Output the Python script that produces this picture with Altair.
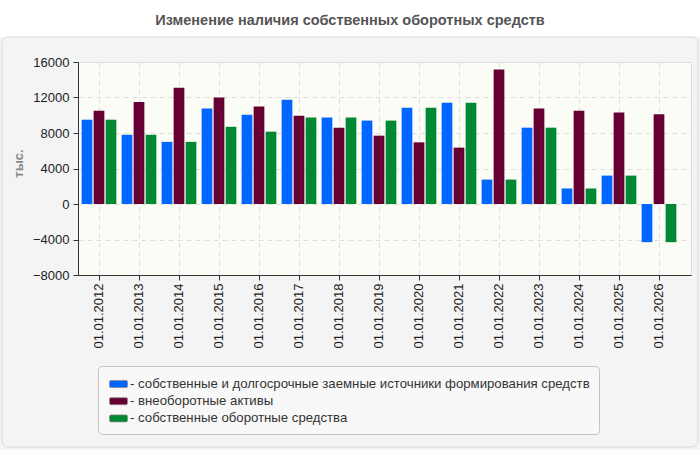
import altair as alt
import pandas as pd

# Reporting dates (categories on the x axis)
dates = [
    "01.01.2012", "01.01.2013", "01.01.2014", "01.01.2015", "01.01.2016",
    "01.01.2017", "01.01.2018", "01.01.2019", "01.01.2020", "01.01.2021",
    "01.01.2022", "01.01.2023", "01.01.2024", "01.01.2025", "01.01.2026",
]

series_names = [
    "собственные и долгосрочные заемные источники формирования средств",
    "внеоборотные активы",
    "собственные оборотные средства",
]
series_colors = ["#0066ff", "#660033", "#008833"]

# Values, thousands
own_and_longterm = [9500, 7800, 7000, 10750, 10050, 11750, 9750, 9400, 10850, 11400,
                    2750, 8600, 1750, 3200, -4300]
noncurrent_assets = [10500, 11500, 13100, 12000, 11000, 9950, 8600, 7700, 6950, 6350,
                     15150, 10750, 10500, 10300, 10100]
working_capital = [9500, 7800, 7000, 8700, 8150, 9750, 9750, 9400, 10850, 11400,
                   2750, 8600, 1750, 3200, -4300]

y_ticks = [-8000, -4000, 0, 4000, 8000, 12000, 16000]
chart_title = "Изменение наличия собственных оборотных средств"
y_title = "тыс."

rows = []
for i, d in enumerate(dates):
    for name, vals in zip(series_names, [own_and_longterm, noncurrent_assets, working_capital]):
        rows.append({"date": d, "series": name, "value": vals[i]})
df = pd.DataFrame(rows)

W, H = 613, 213
one = pd.DataFrame({"k": [0]})

# Rounded-rectangle legend swatch inside the [-1, 1] box
legend_symbol = (
    "M-0.85,-0.39 h1.7 a0.15,0.15 0 0 1 0.15,0.15 v0.48 a0.15,0.15 0 0 1 -0.15,0.15 "
    "h-1.7 a0.15,0.15 0 0 1 -0.15,-0.15 v-0.48 a0.15,0.15 0 0 1 0.15,-0.15 z"
)

bars = alt.Chart(df).mark_bar().encode(
    x=alt.X(
        "date:N", sort=dates,
        scale=alt.Scale(paddingInner=0, paddingOuter=0.1625, align=0.077),
        axis=alt.Axis(
            title=None, labelAngle=270, labelAlign="right", labelBaseline="middle",
            labelFontSize=13, labelColor="#222", labelPadding=3,
            tickSize=5, tickColor="#333", domainColor="#333",
            grid=True, gridDash=[5, 4], gridColor="#dddddd",
        ),
    ),
    xOffset=alt.XOffset(
        "series:N", sort=series_names,
        scale=alt.Scale(paddingInner=0.108, paddingOuter=0.22),
    ),
    y=alt.Y(
        "value:Q",
        scale=alt.Scale(domain=[-8000, 16000], nice=False),
        axis=alt.Axis(
            values=y_ticks, format="d", title=y_title, titleFontSize=13,
            titleFontWeight="bold", titleColor="#888", titleX=-60, titleY=101,
            titleAngle=270, titleAlign="center", titleBaseline="middle",
            labelFontSize=13, labelColor="#222", labelPadding=4,
            tickSize=5, tickColor="#333", domainColor="#333",
            grid=True, gridDash=[5, 4], gridColor="#dddddd",
        ),
    ),
    color=alt.Color(
        "series:N",
        scale=alt.Scale(domain=series_names, range=series_colors),
        legend=alt.Legend(
            title=None, orient="none", legendX=20, legendY=304,
            fillColor="#f8f8f8", strokeColor="#c4c4c4", cornerRadius=4,
            padding=8.5, rowPadding=1.2, symbolOffset=2.5,
            symbolType=legend_symbol, symbolSize=324, symbolStrokeWidth=0.8,
            symbolStrokeColor="#8a8a8a",
            labelFontSize=13.2, labelColor="#333", labelOffset=2, labelLimit=0,
            labelExpr="'- ' + datum.label",
        ),
    ),
)

top_strip = alt.Chart(one).mark_rect(color="white").encode(
    x=alt.value(-78), x2=alt.value(622), y=alt.value(-62), y2=alt.value(-25)
)

panel_border = alt.Chart(one).mark_rect(
    fillOpacity=0, stroke="#d8d8d8", strokeWidth=1, cornerRadius=6
).encode(
    x=alt.value(-76), x2=alt.value(620), y=alt.value(-25), y2=alt.value(385)
)

title = alt.Chart(one).mark_text(
    text=chart_title, fontSize=14.5, fontWeight="bold", color="#555",
    align="center", baseline="middle",
).encode(x=alt.value(272), y=alt.value(-41))

chart = alt.layer(top_strip, panel_border, bars, title).properties(
    width=W, height=H,
    padding={"left": 78, "top": 62, "right": 9, "bottom": 175},
    autosize=alt.AutoSizeParams(type="none"),
    background="#f4f4f4",
).configure(
    font="Liberation Sans",
).configure_view(
    fill="#fcfcf6", stroke="#dddddd",
)

chart.save("out.html", embed_options={"renderer": "svg", "actions": False})
